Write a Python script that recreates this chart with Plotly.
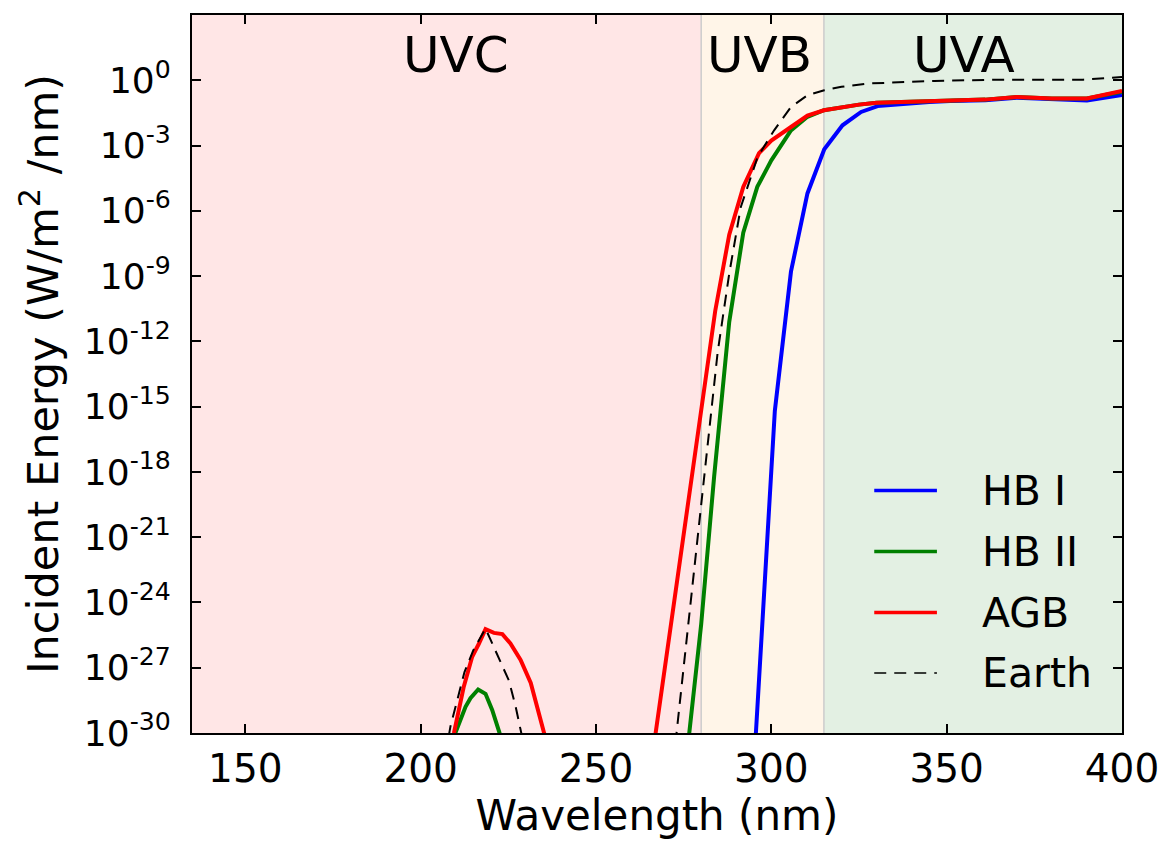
import plotly.graph_objects as go

# ---------------- data ----------------
hb1_wl = [294, 295.6, 301, 305.6, 310.3, 315.1, 320.3, 325.6, 330.3, 337, 345, 351, 361, 370, 380, 390, 400]
hb1_val = [1e-33, 1e-30, 6.3e-16, 1.6e-9, 6.3e-6, 6.8e-4, 8.5e-3, 3.5e-2, 6.5e-2, 8.3e-2,
           0.100, 0.112, 0.120, 0.158, 0.135, 0.118, 0.21]

hb2_wl = [207, 209.9, 212.8, 214.2, 216.4, 218.5, 220.4, 222.5, 225, 250,
          275, 276.6, 280, 283.7, 288, 292, 296, 300, 305.6, 310.3, 315,
          320, 325, 330, 337, 345, 351, 361, 370, 380, 390, 400]
hb2_val = [3.2e-33, 1e-30, 1.6e-29, 4e-29, 1.0e-28, 6.3e-29, 1.15e-29, 1e-30, 3.2e-33, 1e-40,
           1e-33, 1e-30, 1e-25, 6.3e-19, 7.9e-12, 1e-7, 1.26e-5, 2.1e-4, 5e-3, 2.1e-2, 4.2e-2,
           5.9e-2, 7.6e-2, 9.3e-2, 0.102, 0.112, 0.120, 0.129, 0.170, 0.145, 0.145, 0.30]

agb_wl = [205, 209.5, 212.3, 214.7, 216.6, 218.5, 220.9, 223.3, 225.6, 228.5, 231.4, 235.2, 238, 250,
          265, 267, 271, 275, 280, 284, 288, 292, 296.5, 300, 305.6, 310.3, 315,
          320, 325, 330, 337, 345, 351, 361, 370, 380, 390, 400]
agb_val = [1e-33, 1e-30, 1.35e-28, 3.2e-27, 1.26e-26, 5.9e-26, 4.0e-26, 3.5e-26, 1.3e-26, 2.3e-27, 2.0e-28, 1e-30, 1e-32, 1e-40,
           5e-33, 1e-30, 4e-26, 1.6e-21, 1e-15, 2.5e-11, 8e-8, 1.26e-5, 4.5e-4, 1.7e-3, 7.1e-3, 2.4e-2, 4.2e-2,
           5.9e-2, 7.6e-2, 9.3e-2, 0.102, 0.112, 0.120, 0.129, 0.170, 0.145, 0.145, 0.324]

earth_wl = [206, 208.5, 212.5, 215, 218.5, 222.8, 225.2, 227.1, 228.7, 231, 250,
            271.5, 273.2, 284.7, 288, 291.3, 296.1, 300.8, 305.6, 310.3, 315.1,
            320, 327.5, 337, 346.5, 365.5, 389, 400]
earth_val = [1e-32, 2e-30, 6.3e-28, 6.3e-27, 6.3e-26, 1.6e-27, 2.5e-28, 1.6e-29, 1e-30, 1e-32, 1e-40,
             6.3e-33, 2e-30, 3.2e-13, 1.3e-9, 1.5e-6, 3e-4, 5e-3, 5.9e-2, 0.204, 0.347,
             0.50, 0.71, 0.83, 0.93, 1.07, 1.07, 1.41]

series_names = ["HB I", "HB II", "AGB", "Earth"]

bands = ["UVC", "UVB", "UVA"]
band_edges = [(134.8, 280), (280, 315), (315, 400)]
band_label_x = [210, 296.5, 355]

x_ticks = [150, 200, 250, 300, 350, 400]
y_exps = [0, -3, -6, -9, -12, -15, -18, -21, -24, -27, -30]

# ---------------- figure ----------------
FONT = "DejaVu Sans"
fig = go.Figure()

styles = [
    dict(color="#0000ff", width=4, dash="solid"),
    dict(color="#008000", width=4, dash="solid"),
    dict(color="#ff0000", width=4, dash="solid"),
    dict(color="#000000", width=2, dash="12px,8px"),
]
for name, wl, val, st in zip(series_names,
                             [hb1_wl, hb2_wl, agb_wl, earth_wl],
                             [hb1_val, hb2_val, agb_val, earth_val], styles):
    fig.add_trace(go.Scatter(x=wl, y=val, mode="lines", name=name,
                             line=st, showlegend=False))

band_colors = ["#ffe6e6", "#fff5e8", "#e3f0e3"]
shapes = []
for (x0, x1), c in zip(band_edges, band_colors):
    shapes.append(dict(type="rect", xref="x", yref="paper", x0=x0, x1=x1, y0=0, y1=1,
                       fillcolor=c, line=dict(width=0), layer="below"))
for xv in [280, 315]:
    shapes.append(dict(type="line", xref="x", yref="paper", x0=xv, x1=xv, y0=0, y1=1,
                       line=dict(color="#cccccc", width=1.5), layer="below"))

annotations = []
for lab, xv in zip(bands, band_label_x):
    annotations.append(dict(x=xv, y=1.15, xref="x", yref="y", text=lab, showarrow=False,
                            font=dict(family=FONT, size=50, color="black"),
                            xanchor="center", yanchor="middle"))

# manual legend (line sample + label)
leg_y = [0.3376, 0.2527, 0.1678, 0.0835]
for name, st, yy in zip(series_names, styles, leg_y):
    shapes.append(dict(type="line", xref="paper", yref="paper", x0=0.7336, x1=0.801,
                       y0=yy, y1=yy, line=dict(color=st["color"], width=st["width"] - 0.5, dash=st["dash"])))
    annotations.append(dict(x=0.8475, y=yy, xref="paper", yref="paper", text=name,
                            showarrow=False, xanchor="left", yanchor="middle",
                            font=dict(family=FONT, size=41, color="black")))

fig.update_layout(
    width=1175, height=850,
    margin=dict(l=192, r=53, t=15, b=117),
    paper_bgcolor="white", plot_bgcolor="white",
    font=dict(family=FONT, color="black"),
    shapes=shapes, annotations=annotations,
    showlegend=False,
)

axis_common = dict(showline=True, linecolor="black", linewidth=2, mirror="allticks",
                   ticks="inside", ticklen=9, tickwidth=1.5, tickcolor="black",
                   showgrid=False, zeroline=False)

fig.update_xaxes(range=[134.8, 400], tickvals=x_ticks, ticktext=[str(v) for v in x_ticks],
                 tickfont=dict(family=FONT, size=39),
                 title=dict(text="Wavelength (nm)", font=dict(family=FONT, size=42), standoff=4),
                 ticklabelstandoff=0, **axis_common)
fig.update_yaxes(type="log", range=[-30, 3],
                 tickvals=[10.0 ** e for e in y_exps],
                 ticktext=["10<sup>%d</sup>" % e for e in y_exps],
                 tickfont=dict(family=FONT, size=36),
                 title=dict(text="Incident Energy (W/m<sup>2</sup> /nm)", font=dict(family=FONT, size=43), standoff=12),
                 ticklabelstandoff=12, **axis_common)

fig.write_html("out.html")
